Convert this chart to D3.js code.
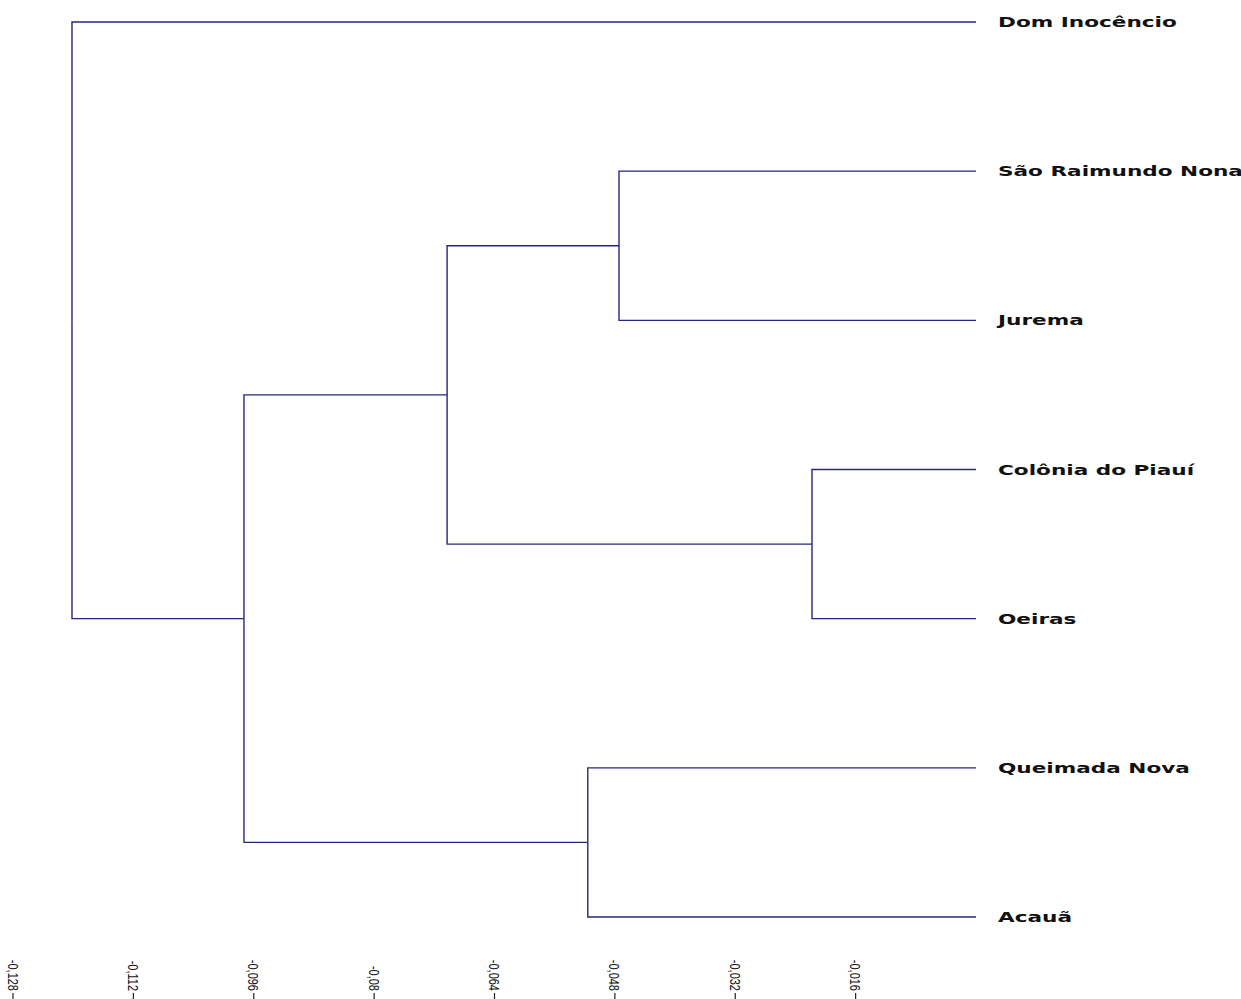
<!DOCTYPE html>
<html>
<head>
<meta charset="utf-8">
<script src="https://cdn.jsdelivr.net/npm/d3@7"></script>
<style>
  html, body { margin: 0; padding: 0; background: #fff; }
  svg { display: block; }
</style>
</head>
<body>
<svg id="chart" width="1241" height="999"></svg>
<script>
// Leaves of the dendrogram, top to bottom
const leaves = ["Dom Inocêncio", "São Raimundo Nonato", "Jurema", "Colônia do Piauí", "Oeiras", "Queimada Nova", "Acauã"];

// Agglomeration steps: child A, child B, merge height, resulting node id
const mergeA = ["Colônia do Piauí", "São Raimundo Nonato", "Queimada Nova", "n2", "n4", "Dom Inocêncio"];
const mergeB = ["Oeiras", "Jurema", "Acauã", "n1", "n3", "n5"];
const mergeHeight = [-0.0218, -0.04745, -0.0516, -0.0703, -0.0973, -0.12016];
const mergeId = ["n1", "n2", "n3", "n4", "n5", "n6"];

// Axis tick values and their labels
const tickValues = [-0.128, -0.112, -0.096, -0.08, -0.064, -0.048, -0.032, -0.016];
const tickLabels = ["-0,128", "-0,112", "-0,096", "-0,08", "-0,064", "-0,048", "-0,032", "-0,016"];

const svg = d3.select("#chart");
const lineColor = "#262680";

const x = d3.scaleLinear().domain([-0.128, 0]).range([13, 976]);
const y = d3.scalePoint().domain(leaves).range([22, 917]);

// Node positions: leaves sit at height 0
const pos = {};
leaves.forEach(l => { pos[l] = { v: 0, y: y(l) }; });
mergeId.forEach((id, i) => {
  const a = pos[mergeA[i]], b = pos[mergeB[i]];
  pos[id] = { v: mergeHeight[i], y: (a.y + b.y) / 2 };
});

// Elbow links from each merge to its two children
const g = svg.append("g").attr("fill", "none").attr("stroke", lineColor).attr("stroke-width", 1.4);
mergeId.forEach((id, i) => {
  const p = pos[id];
  [mergeA[i], mergeB[i]].forEach(c => {
    const ch = pos[c];
    g.append("path")
      .attr("d", `M${x(p.v)},${p.y}V${ch.y}H${x(ch.v)}`);
  });
});

// Leaf labels (wide bold face)
const lab = svg.append("g");
leaves.forEach(l => {
  lab.append("text")
    .attr("transform", `translate(998,${y(l) + 5}) scale(1.6,1)`)
    .attr("font-family", "DejaVu Sans")
    .attr("font-weight", "bold")
    .attr("font-size", 13.5)
    .attr("fill", "#111")
    .text(l);
});

// Bottom axis: rotated labels with small ticks
const ax = svg.append("g");
tickValues.forEach((t, i) => {
  const tx = x(t);
  ax.append("text")
    .attr("transform", `translate(${tx},991) rotate(90) scale(1,1.4)`)
    .attr("text-anchor", "end")
    .attr("dy", "0.35em")
    .attr("font-family", "Liberation Sans, Arial, sans-serif")
    .attr("font-size", 11)
    .attr("fill", "#111")
    .text(tickLabels[i]);
  ax.append("line")
    .attr("x1", tx).attr("x2", tx)
    .attr("y1", 993).attr("y2", 999)
    .attr("stroke", "#222").attr("stroke-width", 1.2);
});
</script>
</body>
</html>
